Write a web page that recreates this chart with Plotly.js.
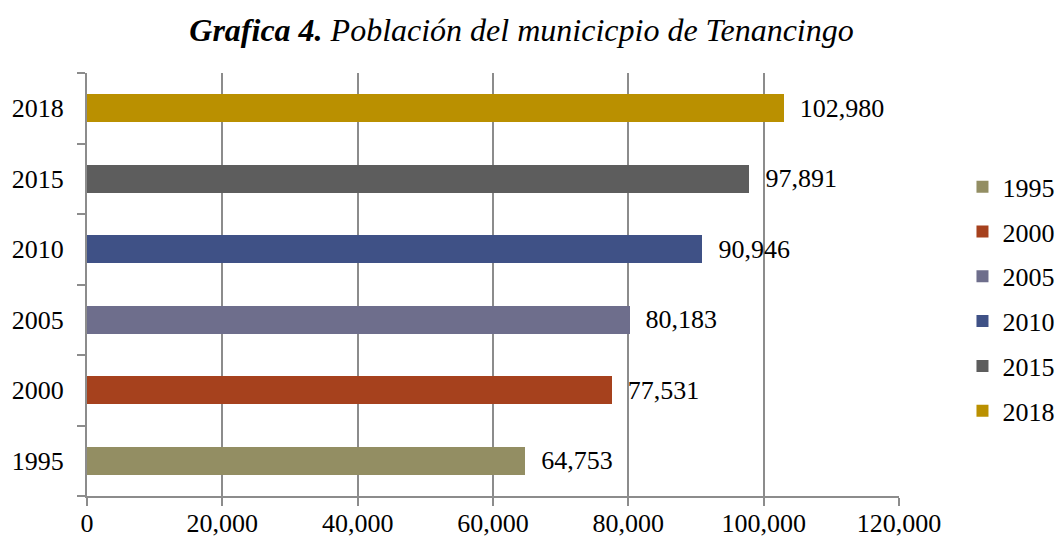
<!DOCTYPE html>
<html>
<head>
<meta charset="utf-8">
<script src="https://cdn.plot.ly/plotly-3.0.1.min.js"></script>
<style>
  body { margin: 0; background: #fff; }
  #plot { width: 1060px; height: 539px; }
</style>
</head>
<body>
<div id="plot"></div>
<script>
// Población por año (reference values)
let years = ['1995', '2000', '2005', '2010', '2015', '2018'];
let poblacion = [64753, 77531, 80183, 90946, 97891, 102980];
let colors = ['#938e63', '#a6411d', '#6e6e8c', '#3f5186', '#5d5d5d', '#ba9000'];
let xTicks = [0, 20000, 40000, 60000, 80000, 100000, 120000];

let serif = '"Liberation Serif", "Times New Roman", "DejaVu Serif", serif';

// one trace per year so each gets its own legend entry
let traces = years.map((yr, i) => ({
  x: [poblacion[i]],
  y: [yr],
  name: yr,
  legendgroup: yr,
  type: 'bar',
  orientation: 'h',
  marker: { color: colors[i] },
  texttemplate: '\u00a0\u00a0%{x:,}',
  textposition: 'outside',
  constraintext: 'none',
  cliponaxis: false,
  textfont: { family: serif, size: 26, color: '#000' },
  hoverinfo: 'x+y'
}));

let layout = {
  width: 1060,
  height: 539,
  margin: { l: 87, r: 161, t: 73, b: 43 },
  paper_bgcolor: '#fff',
  plot_bgcolor: '#fff',
  font: { family: serif, size: 26, color: '#000' },
  title: {
    text: '<i><b>Grafica 4.</b> Población del municicpio de Tenancingo</i>',
    font: { family: serif, size: 32, color: '#000' },
    xref: 'container', x: 0.492, xanchor: 'center',
    yref: 'container', y: 0.945, yanchor: 'middle'
  },
  barmode: 'stack',
  bargap: 0.6,
  xaxis: {
    range: [0, 120000],
    tickvals: xTicks,
    tickformat: ',',
    showgrid: true,
    gridcolor: '#8c8c8c',
    gridwidth: 2,
    zeroline: false,
    showline: true,
    linecolor: '#8c8c8c',
    linewidth: 2,
    ticks: 'outside',
    ticklen: 8,
    tickwidth: 2,
    tickcolor: '#8c8c8c',
    ticklabelstandoff: -5,
    tickfont: { family: serif, size: 26, color: '#000' },
    fixedrange: true
  },
  yaxis: {
    type: 'category',
    categoryorder: 'array',
    categoryarray: years,
    range: [-0.5, 5.5],
    showgrid: false,
    zeroline: false,
    showline: true,
    linecolor: '#8c8c8c',
    linewidth: 2,
    ticks: 'outside',
    tickson: 'boundaries',
    ticklen: 8,
    tickwidth: 2,
    tickcolor: '#8c8c8c',
    ticklabelstandoff: 16,
    tickfont: { family: serif, size: 26, color: '#000' },
    fixedrange: true
  },
  showlegend: true,
  legend: {
    traceorder: 'grouped',
    tracegroupgap: 8,
    xref: 'container', x: 0.908, xanchor: 'left',
    yref: 'container', y: 0.447, yanchor: 'middle',
    font: { family: serif, size: 26, color: '#000' },
    bgcolor: 'rgba(0,0,0,0)'
  }
};

Plotly.newPlot('plot', traces, layout, { displayModeBar: false, staticPlot: true });
</script>
</body>
</html>
